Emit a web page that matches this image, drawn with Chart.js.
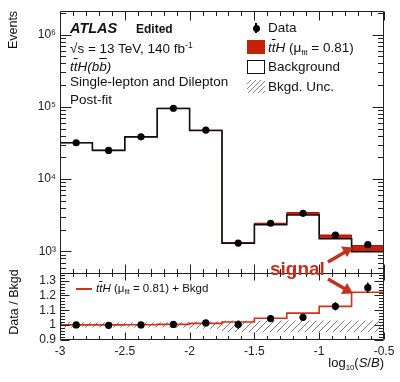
<!DOCTYPE html>
<html><head><meta charset="utf-8">
<script src="https://cdn.jsdelivr.net/npm/chart.js@4"></script>
<style>
html,body{margin:0;padding:0;background:#fff;}
#wrap{position:relative;width:400px;height:382px;overflow:hidden;font-family:"Liberation Sans",Arial,sans-serif;color:#111;}
canvas{position:absolute;left:0;top:0;}
.t{position:absolute;white-space:nowrap;line-height:1;}
.ov{text-decoration:overline;}
.sub{font-size:0.6em;vertical-align:-0.35em;}
.sup{font-size:0.62em;vertical-align:0.55em;}
</style></head><body>
<div id="wrap">
<canvas id="c" width="400" height="382"></canvas>
<div class="t" style="left:70px;top:21px;font-size:14.5px;font-weight:bold;font-style:italic;">ATLAS</div>
<div class="t" style="left:136px;top:23px;font-size:12px;font-weight:bold;">Edited</div>
<div class="t" style="left:70px;top:41px;font-size:13.5px;">√s = 13 TeV, 140 fb<span class="sup">-1</span></div>
<div class="t" style="left:70px;top:60px;font-size:13.5px;font-style:italic;">t<span class="ov">t</span>H(b<span class="ov">b</span>)</div>
<div class="t" style="left:70px;top:75px;font-size:13.5px;">Single-lepton and Dilepton</div>
<div class="t" style="left:70px;top:93px;font-size:13.5px;">Post-fit</div>

<div style="position:absolute;left:255.3px;top:23px;width:1.5px;height:10px;background:#000;"></div>
<div style="position:absolute;left:252.5px;top:24.5px;width:7px;height:7px;border-radius:50%;background:#000;"></div>
<div class="t" style="left:268px;top:21px;font-size:13.5px;">Data</div>
<div style="position:absolute;left:247px;top:40px;width:18px;height:14px;background:#c4200a;"></div>
<div class="t" style="left:268px;top:41px;font-size:13.5px;"><i>t<span class="ov">t</span>H</i> (μ<span class="sub">fit</span> = 0.81)</div>
<div style="position:absolute;left:247px;top:60px;width:18px;height:14px;border:1px solid #111;box-sizing:border-box;"></div>
<div class="t" style="left:268px;top:60px;font-size:13.5px;">Background</div>
<div style="position:absolute;left:247px;top:80px;width:18px;height:13px;background:repeating-linear-gradient(135deg,#fff 0px,#fff 2.5px,#888 2.5px,#888 3.5px);"></div>
<div class="t" style="left:268px;top:80px;font-size:13.5px;">Bkgd. Unc.</div>

<div style="position:absolute;left:76px;top:288px;width:16px;height:1.5px;background:#d0301c;"></div>
<div class="t" style="left:96px;top:283px;font-size:11.5px;"><i>t<span class="ov">t</span>H</i> (μ<span class="sub">fit</span> = 0.81) + Bkgd</div>

<div class="t" style="left:270px;top:259px;font-size:19px;font-weight:bold;color:#c4301c;">signal</div>
<svg style="position:absolute;left:0;top:0;" width="400" height="382">
  <g stroke="#c4301c" stroke-width="3.5" fill="#c4301c">
    <line x1="328" y1="262" x2="346" y2="251.5"/>
    <line x1="328" y1="279" x2="346" y2="289.5"/>
  </g>
  <polygon points="353,247.5 341,246.5 347,257" fill="#c4301c"/>
  <polygon points="353,293.5 347,283 341,294" fill="#c4301c"/>
</svg>

<div class="t" style="right:16px;top:356px;font-size:13px;">log<span class="sub">10</span>(<i>S</i>/<i>B</i>)</div>
<div class="t" style="left:13px;top:30px;font-size:12.5px;transform:translate(-50%,-50%) rotate(-90deg);">Events</div>
<div class="t" style="left:14px;top:302px;font-size:12.5px;transform:translate(-50%,-50%) rotate(-90deg);">Data / Bkgd</div>
</div>
<script>
// ---- data ----
const edges = [-3, -2.75, -2.5, -2.25, -2, -1.75, -1.5, -1.25, -1, -0.75, -0.5];
const centers = [-2.875, -2.625, -2.375, -2.125, -1.875, -1.625, -1.375, -1.125, -0.875, -0.625];
const bkg = [31800, 25000, 38400, 95000, 47000, 1300, 2350, 3200, 1500, 990];
const sig = [60, 50, 90, 480, 560, 28, 110, 260, 190, 220];
const dataCounts = [31850, 24980, 38450, 95500, 47700, 1305, 2455, 3370, 1690, 1240];
const dataErr = [180, 160, 200, 310, 220, 36, 50, 58, 41, 35];
const uncUp = [1.02, 1.02, 1.02, 1.02, 1.025, 1.032, 1.032, 1.032, 1.032, 1.032];
const uncDn = [0.985, 0.985, 0.985, 0.985, 0.975, 0.952, 0.952, 0.952, 0.952, 0.952];
const xTicks = [-3, -2.5, -2, -1.5, -1, -0.5];
const yTicks = [1e3, 1e4, 1e5, 1e6];
const rTicks = [0.9, 1, 1.1, 1.2, 1.3];

const RED = '#c4200a';
const sigBkg = bkg.map((b, i) => b + sig[i]);
const ratioSB = sigBkg.map((v, i) => v / bkg[i]);
const ratioData = dataCounts.map((d, i) => d / bkg[i]);
const ratioErr = dataErr.map((e, i) => e / bkg[i]);

function steps(vals) {
  const p = vals.map((v, i) => ({x: edges[i], y: v}));
  p.push({x: edges[edges.length - 1], y: vals[vals.length - 1]});
  return p;
}
function pts(vals) { return vals.map((v, i) => ({x: centers[i], y: v})); }

function hatch() {
  const c = document.createElement('canvas'); c.width = 7; c.height = 7;
  const g = c.getContext('2d');
  g.strokeStyle = '#777'; g.lineWidth = 1;
  g.beginPath();
  g.moveTo(0, 7); g.lineTo(7, 0);
  g.moveTo(-1, 1); g.lineTo(1, -1);
  g.moveTo(6, 8); g.lineTo(8, 6);
  g.stroke();
  return g.createPattern(c, 'repeat');
}

const supMap = {'0':'⁰','1':'¹','2':'²','3':'³','4':'⁴','5':'⁵','6':'⁶','7':'⁷','8':'⁸','9':'⁹'};

const errPlugin = {
  id: 'errs',
  afterDatasetsDraw(chart) {
    const ctx = chart.ctx;
    chart.data.datasets.forEach((ds, di) => {
      if (!ds.errs) return;
      const sc = chart.scales[ds.yAxisID];
      const xs = chart.scales.x;
      ctx.save(); ctx.strokeStyle = '#000'; ctx.lineWidth = 1.5;
      ds.data.forEach((p, i) => {
        const px = xs.getPixelForValue(p.x);
        ctx.beginPath();
        ctx.moveTo(px, sc.getPixelForValue(p.y - ds.errs[i]));
        ctx.lineTo(px, sc.getPixelForValue(p.y + ds.errs[i]));
        ctx.stroke();
      });
      ctx.restore();
    });
  }
};

const framePlugin = {
  id: 'frame',
  afterDatasetsDraw(chart) {
    const ctx = chart.ctx;
    const xs = chart.scales.x, y = chart.scales.y, yr = chart.scales.yr;
    const L = Math.round(xs.left) + 0.5, R = Math.round(xs.right) - 0.5;
    ctx.save();
    ctx.strokeStyle = '#222'; ctx.lineWidth = 1;
    const panels = [[Math.round(y.top) + 0.5, Math.round(y.bottom) + 0.5], [Math.round(yr.top) + 0.5, Math.round(yr.bottom) - 0.5]];
    ctx.beginPath();
    panels.forEach(([t, b]) => { ctx.rect(L, t, R - L, b - t); });
    for (let i = 0; i <= 25; i++) {
      const v = -3 + i * 0.1;
      const px = Math.round(xs.getPixelForValue(v)) + 0.5;
      const big = i % 5 === 0;
      panels.forEach(([t, b], k) => {
        const len = big ? (k === 0 ? 9 : 7) : (k === 0 ? 4.5 : 3.5);
        ctx.moveTo(px, t); ctx.lineTo(px, t + len);
        ctx.moveTo(px, b); ctx.lineTo(px, b - len);
      });
    }
    for (let k = 2; k <= 6; k++) {
      for (let m = 1; m <= 9; m++) {
        const v = m * Math.pow(10, k);
        if (v < y.min || v > y.max) continue;
        const py = Math.round(y.getPixelForValue(v)) + 0.5;
        const len = m === 1 ? 11 : 5.5;
        ctx.moveTo(L, py); ctx.lineTo(L + len, py);
        ctx.moveTo(R, py); ctx.lineTo(R - len, py);
      }
    }
    for (let i = 0; i <= 22; i++) {
      const v = 0.9 + i * 0.02;
      if (v > yr.max + 1e-9) continue;
      const py = Math.round(yr.getPixelForValue(v)) + 0.5;
      const len = i % 5 === 0 ? 9 : 4.5;
      ctx.moveTo(L, py); ctx.lineTo(L + len, py);
      ctx.moveTo(R, py); ctx.lineTo(R - len, py);
    }
    ctx.stroke();
    ctx.restore();
  }
};

const tickFont = {family: '"Liberation Sans", Arial, sans-serif', size: 12};

new Chart(document.getElementById('c'), {
  type: 'line',
  data: {
    datasets: [
      {label: 'sigbkg', data: steps(sigBkg), yAxisID: 'y', stepped: 'before', borderColor: '#a81806', borderWidth: 1,
       backgroundColor: RED, fill: 1, pointRadius: 0, order: 3},
      {label: 'bkg', data: steps(bkg), yAxisID: 'y', stepped: 'before', borderColor: '#111', borderWidth: 1.6,
       fill: false, pointRadius: 0, order: 2},
      {label: 'data', data: pts(dataCounts), errs: dataErr, yAxisID: 'y', showLine: false, pointRadius: 3.6,
       pointBackgroundColor: '#000', pointBorderWidth: 0, order: 1},
      {label: 'uncUp', data: steps(uncUp), yAxisID: 'yr', stepped: 'before', borderWidth: 0, borderColor: 'rgba(0,0,0,0)',
       fill: false, pointRadius: 0, order: 6},
      {label: 'uncDn', data: steps(uncDn), yAxisID: 'yr', stepped: 'before', borderWidth: 0, borderColor: 'rgba(0,0,0,0)',
       backgroundColor: hatch(), fill: 3, pointRadius: 0, order: 5},
      {label: 'ratioSB', data: steps(ratioSB), yAxisID: 'yr', stepped: 'before', borderColor: '#d0301c', borderWidth: 1.6,
       fill: false, pointRadius: 0, order: 4},
      {label: 'ratioData', data: pts(ratioData), errs: ratioErr, yAxisID: 'yr', showLine: false, pointRadius: 3.6,
       pointBackgroundColor: '#000', pointBorderWidth: 0, order: 0}
    ]
  },
  options: {
    responsive: false, animation: false, devicePixelRatio: 1,
    layout: {padding: {left: 0, right: 16, top: 10, bottom: 0}},
    plugins: {legend: {display: false}, tooltip: {enabled: false}, title: {display: false}},
    scales: {
      x: {type: 'linear', position: 'bottom', min: -3, max: -0.5,
          grid: {display: false, drawTicks: false}, border: {display: false},
          afterBuildTicks: s => { s.ticks = xTicks.map(v => ({value: v})); },
          afterFit: s => { s.height = 42; },
          ticks: {autoSkip: false, maxRotation: 0, padding: 4, color: '#222', font: tickFont, callback: v => String(v)}},
      yr: {type: 'linear', position: 'left', stack: 'v', stackWeight: 67, min: 0.9, max: 1.35,
          grid: {display: false, drawTicks: false}, border: {display: false},
          afterBuildTicks: s => { s.ticks = rTicks.map(v => ({value: v})); },
          afterFit: s => { s.width = 60; },
          ticks: {autoSkip: false, padding: 4, color: '#222', font: tickFont,
                  callback: v => (Math.abs(v - 1) < 1e-9 ? '1' : v.toFixed(1))}},
      y: {type: 'logarithmic', position: 'left', stack: 'v', stackWeight: 263, min: 500, max: 2.1e6,
          grid: {display: false, drawTicks: false}, border: {display: false},
          afterBuildTicks: s => { s.ticks = yTicks.map(v => ({value: v})); },
          afterFit: s => { s.width = 60; },
          ticks: {autoSkip: false, padding: 4, color: '#222', font: tickFont,
                  callback: v => '10' + String(Math.round(Math.log10(v))).split('').map(c => supMap[c]).join('')}}
    }
  },
  plugins: [errPlugin, framePlugin]
});
</script>
</body></html>
